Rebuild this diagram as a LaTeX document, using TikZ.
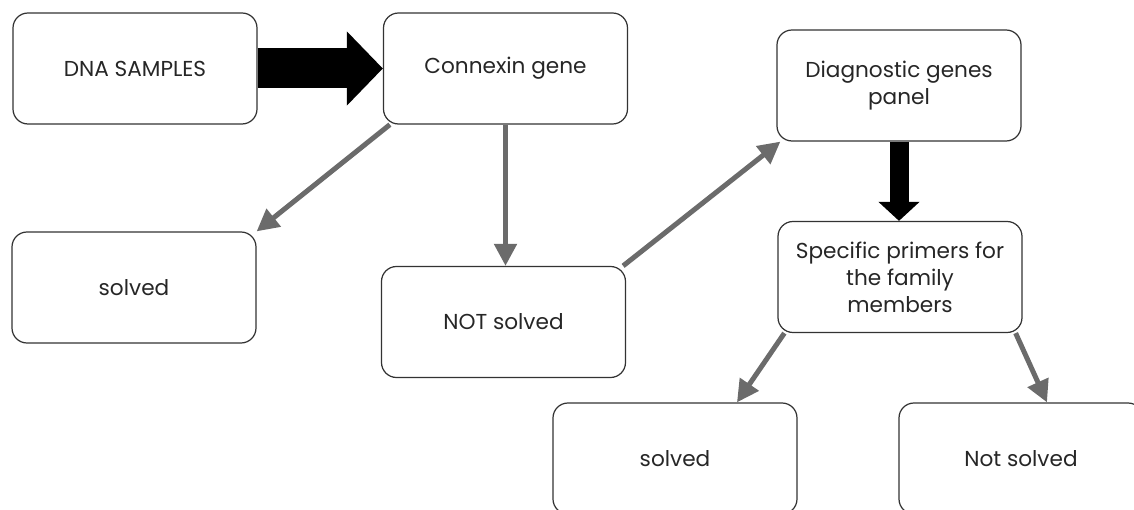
\documentclass[tikz,border=0pt]{standalone}
\usepackage{fontspec}
\setmainfont{Poppins}
\usepackage{tikz}
\usetikzlibrary{arrows.meta, positioning, calc}

\begin{document}
\begin{tikzpicture}[
    box/.style={rectangle, draw=black!80, line width=0.7pt, rounded corners=0.3cm, minimum width=4.88cm, minimum height=2.22cm, align=center, text=black!85, font=\fontsize{12.3}{15.3}\selectfont},
    grayarrow/.style={-{Triangle[length=0.44cm, width=0.44cm]}, line width=0.1cm, draw=black!58},
    blockarrow/.style={-{Triangle[length=0.72cm, width=1.44cm]}, line width=0.8cm},
]
    \useasboundingbox (0,0) rectangle (22.68,-10.2);

    \node[box] (dna) at (2.70,-1.37) {DNA SAMPLES};
    \node[box] (cx) at (10.11,-1.37) {Connexin gene};
    \node[box] (diag) at (17.98,-1.71) {Diagnostic genes\\panel};
    \node[box] (solA) at (2.68,-5.75) {solved};
    \node[box] (notA) at (10.07,-6.44) {NOT solved};
    \node[box] (prim) at (18.00,-5.54) {Specific primers for\\the family\\members};
    \node[box] (solB) at (13.50,-9.17) {solved};
    \node[box] (notB) at (20.42,-9.17) {Not solved};

    \draw[blockarrow] (dna.east) -- (cx.west);
    \draw[-{Triangle[length=0.38cm, width=0.8cm]}, line width=0.38cm] (diag.south) -- (diag.south |- prim.north);

    \draw[grayarrow] ([xshift=0.14cm]cx.south west) -- (solA.north east);
    \draw[grayarrow] (cx.south) -- (cx.south |- notA.north);
    \draw[grayarrow] ([xshift=-0.06cm]notA.north east) -- ([xshift=0.08cm]diag.south west);
    \draw[grayarrow] ([xshift=0.14cm]prim.south west) -- ([xshift=1.24cm]solB.north);
    \draw[grayarrow] ([xshift=-0.14cm]prim.south east) -- ([xshift=0.52cm]notB.north);
\end{tikzpicture}
\end{document}
